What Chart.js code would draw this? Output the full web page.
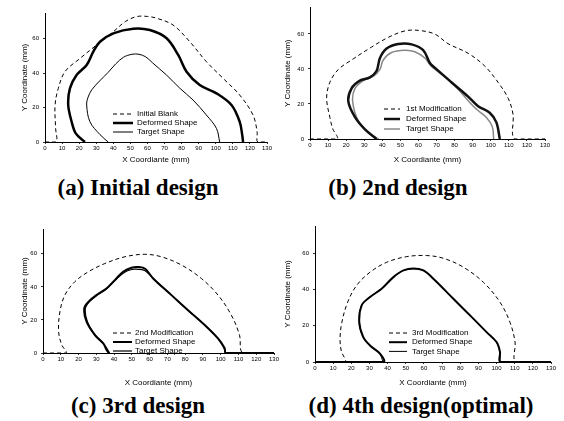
<!DOCTYPE html>
<html>
<head>
<meta charset="utf-8">
<script src="https://cdn.jsdelivr.net/npm/chart.js@4/dist/chart.umd.min.js"></script>
<style>
  body { margin: 0; background: #fff; }
  #page { position: relative; width: 564px; height: 421px; overflow: hidden; background: #fff; }
  canvas { position: absolute; }
  .cap {
    position: absolute; white-space: nowrap; transform: translateX(-50%);
    font: bold 23px "Liberation Serif", "Times New Roman", serif; line-height: 23px; color: #000;
  }
</style>
</head>
<body>
<div id="page">
  <canvas id="chartA" width="282" height="166" style="left:0;top:0"></canvas>
  <canvas id="chartB" width="282" height="166" style="left:282px;top:0"></canvas>
  <canvas id="chartC" width="282" height="172" style="left:0;top:216px"></canvas>
  <canvas id="chartD" width="282" height="172" style="left:282px;top:216px"></canvas>
  <div class="cap" style="left:138px;top:176px">(a) Initial design</div>
  <div class="cap" style="left:398px;top:176px">(b) 2nd design</div>
  <div class="cap" style="left:138px;top:394px">(c) 3rd design</div>
  <div class="cap" style="left:421px;top:394px">(d) 4th design(optimal)</div>
</div>
<script>
// axis ticks
const xTicks = [0, 10, 20, 30, 40, 50, 60, 70, 80, 90, 100, 110, 120, 130];
const yTicks = [0, 20, 40, 60];

// (a) initial design  -- [x, y] in mm
const blankA = [[0,0],[6.5,0],[6.2,8],[5.9,21.5],[7.8,31.2],[11.7,40.9],[20.5,48.6],[30.2,56.4],[40,64.1],[47,70],[53.6,72.9],[60,73],[65.3,72],[75,68],[84.8,58.3],[94.5,46.7],[104.3,37],[114,27.3],[121.8,15.7],[124.2,6],[124.5,0],[130,0]];
const deformedA = [[23.4,0],[18,5],[15.6,11.8],[13.6,21.5],[14.6,31.2],[18.5,38.9],[24.4,44.8],[28.3,52.5],[32.2,58.3],[40,63.2],[51.7,65.9],[61.4,65.1],[71.2,60.3],[78,50.6],[82.9,40.9],[90.6,33.1],[100.4,28.3],[109.2,21.5],[114,11.8],[115.5,4],[116,0]];
const targetA = [[37,0],[32.2,4.3],[26.3,11.8],[24.4,21.5],[25.2,26],[27.5,30.5],[32,35.5],[37,40.5],[41.5,45.5],[46,49.3],[51,51],[55,51],[59,49.5],[63,46],[71.2,38.9],[79,31.2],[86.7,24.4],[94.5,15.7],[100.4,7.9],[102.3,0]];

// (b) 2nd design
const mod1B = [[0,0],[15,0],[12.5,6],[11,12.3],[9.2,23.3],[11,32.4],[15.7,39.7],[23,45.1],[34.1,52.5],[43.3,58],[52.5,61.7],[59.9,62],[69,59.9],[76.4,54.4],[87.5,48.9],[96.7,41.6],[104,32.4],[109.6,23.3],[112.3,14.1],[113.3,0],[130,0]];
const deformedB = [[36.8,0],[30.4,5.5],[25,12.3],[21.2,21.5],[23,28.9],[27.6,33.3],[33.1,35.2],[36.8,38.8],[38.7,46.2],[42.4,51.6],[48.8,54.2],[56.2,54],[62.6,50.7],[66.3,43.4],[69,40.7],[78.2,32.4],[87.5,24.2],[93,18.7],[99.4,15],[103.1,9.5],[105,0]];
const targetB = [[38,0],[33.1,2.9],[26.7,10.4],[23.6,21.5],[24.9,28.9],[29.5,33.3],[35,35.7],[38.7,39.7],[40.5,45.1],[45.1,49.4],[52.5,50.7],[58,49.8],[63.5,46.2],[67.2,41.4],[78.2,32.4],[91.2,17.8],[97.6,12.3],[100.9,6.8],[101.6,0]];

// (c) 3rd design
const mod2C = [[0,0],[13,0],[10.5,5],[8.8,12.9],[9.5,24.9],[12.3,35],[17.9,43.1],[25.5,49.1],[34.8,54.1],[46.1,58.2],[57.3,59.7],[66.6,58.2],[77.9,53.2],[89.1,45.1],[98.5,35],[106,22.9],[110.6,10.8],[112.5,0],[130,0]];
const deformedC = [[37,0],[35.7,2],[33.9,5.8],[29.2,10.8],[24.5,18.9],[23.2,26.9],[25.5,30.9],[30.1,35],[35.7,39],[40.4,44.1],[45.1,49.1],[49.8,51.6],[54,52],[57.5,51],[62,45.1],[72.3,35],[81.6,25.9],[91,16.9],[98.5,8.8],[102.2,3],[103,0],[130,0]];
const targetC = [[37.5,0],[34.5,5],[29.5,10.8],[25,18.9],[23.8,26.9],[26,30.9],[30.5,35],[36,39],[40.8,44.1],[45.5,48.6],[50,50.5],[54,50.6],[57.5,49.8],[62.3,44.8],[72.3,35],[81.6,25.9],[91,16.9],[98.3,8.8],[101.8,3],[102.5,0]];

// (d) 4th design (optimal)
const mod3D = [[0,0],[16.5,0],[14.5,6],[13.8,12.8],[14.8,21.9],[18,33],[22.9,42.2],[30.3,49.5],[39.5,55],[50.5,58.1],[61.5,58.7],[70.7,57.2],[81.7,52.3],[92.7,44],[101.9,33],[107.4,21.9],[110.2,11],[110.7,0],[130,0]];
const deformedD = [[0,0],[37.7,0],[35.8,4.6],[30.3,9.1],[26.6,13.7],[24.4,21.9],[25.7,31.2],[30.3,35.8],[36.7,40.4],[43.2,46.8],[48.7,50.5],[54.2,51.6],[59.7,50.5],[65.2,45.9],[76.2,34.9],[87.2,23.9],[94.5,16.5],[100,11],[101.9,5.5],[102.2,0],[130,0]];
const targetD = [[37.5,0],[35.6,4.6],[30.2,9.1],[26.5,13.7],[24.3,21.9],[25.6,31.2],[30.2,35.8],[36.6,40.4],[43.1,46.8],[48.6,50.4],[54.2,51.4],[59.7,50.4],[65.2,45.8],[76.2,34.8],[87.2,23.8],[94.5,16.4],[99.9,11],[101.8,5.5],[102,0]];

Chart.defaults.font.family = '"Liberation Sans", Arial, sans-serif';
Chart.defaults.color = '#000';

const pts = arr => arr.map(p => ({ x: p[0], y: p[1] }));

// draws the little legend inside the plot area
const insideLegend = {
  id: 'insideLegend',
  afterDatasetsDraw(chart, args, opts) {
    const ctx = chart.ctx;
    ctx.save();
    ctx.font = '8px "Liberation Sans", Arial, sans-serif';
    ctx.textBaseline = 'middle';
    chart.data.datasets.forEach((ds, i) => {
      const y = opts.y + i * opts.gap;
      ctx.beginPath();
      ctx.setLineDash(ds.borderDash || []);
      ctx.lineWidth = ds.borderWidth;
      ctx.strokeStyle = ds.borderColor;
      ctx.moveTo(opts.x, y);
      ctx.lineTo(opts.x + opts.len, y);
      ctx.stroke();
      ctx.setLineDash([]);
      ctx.fillStyle = '#000';
      ctx.fillText(ds.label, opts.x + opts.len + opts.space, y);
    });
    ctx.restore();
  }
};

function line(label, data, width, color, dash) {
  return {
    label, data: pts(data), showLine: true, tension: 0.35,
    borderColor: color, borderWidth: width, borderDash: dash || [],
    pointRadius: 0, fill: false
  };
}

function makePanel(id, datasets, box, legend) {
  return new Chart(document.getElementById(id), {
    type: 'scatter',
    data: { datasets },
    options: {
      responsive: false,
      animation: false,
      layout: { padding: box.pad },
      plugins: { legend: { display: false }, tooltip: { enabled: false }, insideLegend: legend },
      scales: {
        x: {
          type: 'linear', min: 0, max: 130,
          afterFit: s => { s.height = box.xh; },
          afterBuildTicks: s => { s.ticks = xTicks.map(v => ({ value: v })); },
          ticks: { font: { size: 6 }, padding: 1, maxRotation: 0, autoSkip: false },
          grid: { drawOnChartArea: false, tickLength: 2, color: '#000', lineWidth: 0.8 },
          border: { color: '#000', width: 1 },
          title: { display: true, text: 'X Coordiante (mm)', font: { size: 8 }, padding: { top: 0, bottom: box.xt } }
        },
        y: {
          type: 'linear', min: 0, max: 75,
          afterFit: s => { s.width = box.yw; },
          afterBuildTicks: s => { s.ticks = yTicks.map(v => ({ value: v })); },
          ticks: { font: { size: 6 }, padding: 4 },
          grid: { drawOnChartArea: false, tickLength: 2, color: '#000', lineWidth: 0.8 },
          border: { color: '#000', width: 1 },
          title: { display: true, text: 'Y Coordinate (mm)', font: { size: 8 }, padding: { top: box.yt, bottom: 0 } }
        }
      }
    },
    plugins: [insideLegend]
  });
}

const dash = [4, 3];

makePanel('chartA', [
  line('Initial Blank', blankA, 1, '#000', dash),
  line('Deformed Shape', deformedA, 2.5, '#000'),
  line('Target Shape', targetA, 1, '#000')
], { pad: { top: 13, right: 15, left: 0, bottom: 0 }, yw: 45, xh: 24, xt: 1, yt: 20 },
   { x: 113, y: 114, gap: 9, len: 20, space: 4 });

makePanel('chartB', [
  line('1st Modification', mod1B, 1, '#000', dash),
  line('Deformed Shape', deformedB, 2.5, '#111'),
  line('Target Shape', targetB, 1.5, '#888')
], { pad: { top: 3, right: 19, left: 0, bottom: 0 }, yw: 28, xh: 27, xt: 1, yt: 1 },
   { x: 102, y: 109, gap: 10, len: 16, space: 6 });

makePanel('chartC', [
  line('2nd Modification', mod2C, 1, '#000', dash),
  line('Deformed Shape', deformedC, 2, '#000'),
  line('Target Shape', targetC, 1.2, '#000')
], { pad: { top: 13, right: 8, left: 0, bottom: 0 }, yw: 43, xh: 35, xt: 0, yt: 20 },
   { x: 113, y: 117, gap: 9, len: 19, space: 3 });

makePanel('chartD', [
  line('3rd Modification', mod3D, 1, '#000', dash),
  line('Deformed Shape', deformedD, 2, '#000'),
  line('Target Shape', targetD, 1, '#000')
], { pad: { top: 10, right: 13, left: 0, bottom: 0 }, yw: 33, xh: 26, xt: 0, yt: 1 },
   { x: 107, y: 117, gap: 9.2, len: 18, space: 5 });
</script>
</body>
</html>
